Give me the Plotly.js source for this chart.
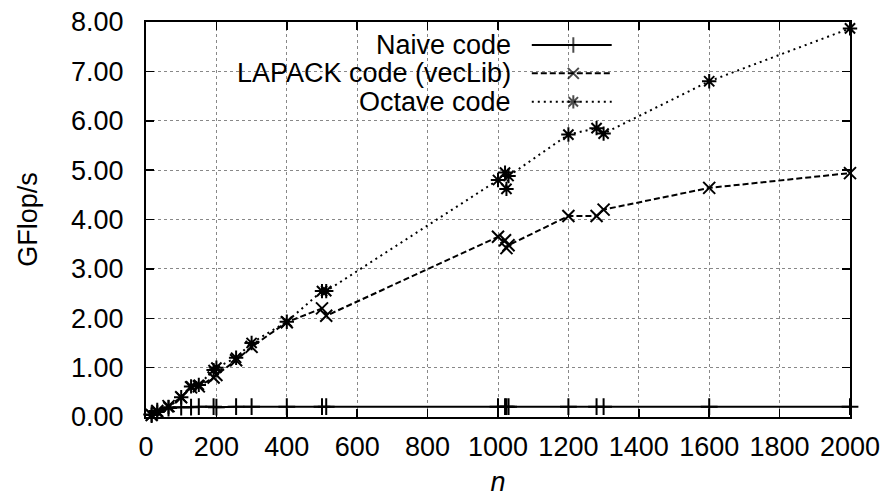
<!DOCTYPE html>
<html><head><meta charset="utf-8">
<script src="https://cdn.plot.ly/plotly-3.0.1.min.js"></script>
<style>html,body{margin:0;padding:0;background:#fff}</style>
</head><body>
<div id="chart" style="width:886px;height:497px"></div>
<script>
// ---- data ----
const n      = [16, 32, 64, 100, 128, 150, 192, 200, 256, 300, 400, 500, 512, 1000, 1020, 1024, 1030, 1200, 1280, 1300, 1600, 2000];
const naive  = [0.05, 0.12, 0.18, 0.20, 0.20, 0.21, 0.21, 0.20, 0.21, 0.21, 0.21, 0.21, 0.21, 0.21, 0.21, 0.21, 0.21, 0.21, 0.21, 0.21, 0.21, 0.21];
const lapack = [0.04, 0.12, 0.22, 0.40, 0.60, 0.62, 0.80, 0.85, 1.15, 1.42, 1.92, 2.20, 2.05, 3.65, 3.58, 3.42, 3.48, 4.07, 4.07, 4.20, 4.64, 4.94];
const octave = [0.04, 0.10, 0.20, 0.40, 0.62, 0.65, 0.95, 1.00, 1.20, 1.50, 1.93, 2.55, 2.55, 4.80, 4.95, 4.62, 4.88, 5.72, 5.85, 5.74, 6.80, 7.87];
const seriesNames = ["Naive code", "LAPACK code (vecLib)", "Octave code"];
const xTickVals = [0, 200, 400, 600, 800, 1000, 1200, 1400, 1600, 1800, 2000];
const yTickVals = [0, 1, 2, 3, 4, 5, 6, 7, 8];
const xTitle = "<i>n</i>";
const yTitle = "GFlop/s";

// ---- styles ----
const FONT = "Liberation Sans, Arial, Helvetica, sans-serif";
const FS = 27;
const styles = [
  {dash: "solid",     symbol: "cross-thin-open"},
  {dash: "6px,3px",   symbol: "x-thin-open"},
  {dash: "2px,4px",   symbol: "asterisk-open"}
];
const values = [naive, lapack, octave];

const traces = values.map((v, i) => ({
  x: n, y: v, type: "scatter", mode: "lines+markers", name: seriesNames[i],
  showlegend: false,
  line: {color: "#000", width: 2, dash: styles[i].dash},
  marker: {symbol: styles[i].symbol, size: 12, color: "#000", line: {color: "#000", width: 2}},
  cliponaxis: false
}));

// legend samples on an overlay axis spanning [0,1] x [0,1]
const legRows = [0.9417, 0.870, 0.798];
const legX0 = 0.548, legX1 = 0.6615, legXm = 0.607, legTextX = 0.5213;
seriesNames.forEach((name, i) => {
  traces.push({
    x: [legX0, legXm, legX1], y: [legRows[i], legRows[i], legRows[i]],
    xaxis: "x2", yaxis: "y2", type: "scatter", mode: "lines+markers", showlegend: false,
    hoverinfo: "skip",
    line: {color: "#000", width: 2, dash: styles[i].dash},
    marker: {symbol: styles[i].symbol, size: [0, 11, 0], color: "#000", line: {color: "#000", width: 2}}
  });
});

const annotations = seriesNames.map((name, i) => ({
  xref: "paper", yref: "paper", x: legTextX, y: legRows[i],
  xanchor: "right", yanchor: "middle", text: name, showarrow: false,
  font: {family: FONT, size: FS, color: "#000"}
}));

const axisCommon = {
  showline: true, linecolor: "#000", linewidth: 2, mirror: "ticks",
  ticks: "inside", ticklen: 8, tickwidth: 1.5, tickcolor: "#000",
  showgrid: true, gridcolor: "#888", gridwidth: 1, griddash: "dot",
  zeroline: false, tickfont: {family: FONT, size: FS, color: "#000"}
};

const layout = {
  width: 886, height: 497,
  margin: {l: 146, r: 36, t: 22, b: 80, pad: 0},
  paper_bgcolor: "#fff", plot_bgcolor: "#fff",
  showlegend: false,
  xaxis: Object.assign({}, axisCommon, {
    range: [0, 2000], tickvals: xTickVals, ticktext: xTickVals.map(String),
    ticklabelstandoff: 5,
    title: {text: xTitle, font: {family: FONT, size: FS, color: "#000"}, standoff: 13}
  }),
  yaxis: Object.assign({}, axisCommon, {
    range: [0, 8], tickvals: yTickVals, ticktext: yTickVals.map(v => v.toFixed(2)),
    ticklabelstandoff: 15,
    title: {text: yTitle, font: {family: FONT, size: FS, color: "#000"}, standoff: 26}
  }),
  xaxis2: {overlaying: "x", anchor: "y2", range: [0, 1], visible: false, fixedrange: true},
  yaxis2: {overlaying: "y", anchor: "x2", range: [0, 1], visible: false, fixedrange: true},
  shapes: [{
    type: "rect", xref: "paper", yref: "paper", x0: 0.084, x1: 0.68, y0: 0.764, y1: 0.997,
    fillcolor: "#fff", line: {width: 0}, layer: "between"
  }],
  annotations: annotations
};

Plotly.newPlot("chart", traces, layout, {staticPlot: true, displayModeBar: false});
</script>
</body></html>
